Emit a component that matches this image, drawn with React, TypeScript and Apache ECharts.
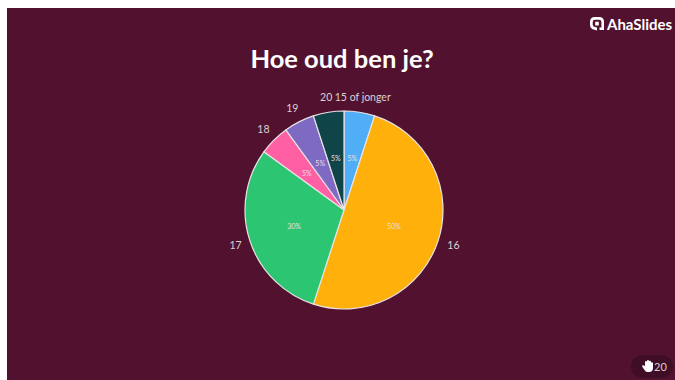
import React, { useEffect, useRef } from "react";
import * as echarts from "echarts";

const categories = ["15 of jonger", "16", "17", "18", "19", "20"];
const responses = [1, 10, 6, 1, 1, 1];
const sliceColors = ["#4FAEF6", "#FFB00A", "#2CC672", "#FF5FA3", "#7E6AC3", "#0F4449"];
const titleText = "Hoe oud ben je?";
const brandText = "AhaSlides";
const countText = "20";
const FONT = "Lato, 'Noto Sans', sans-serif";

const HAND =
  "M3 6 L3 2 Q3 1 4 1 Q5 1 5 2 L5 1 Q5 0 6 0 Q7 0 7 1 L7 1.5 Q7 .7 8 .7 Q9 .7 9 1.7 L9 3 Q9 2.2 10 2.2 Q11 2.2 11 3.2 L11 8 Q11 12 7 12 L5.5 12 Q3.5 12 2.5 10 L.3 6.8 Q-.2 5.8 .6 5.3 Q1.4 4.9 2 5.6 Z";
const LOGO =
  "M5 0 L9 0 Q14 0 14 5 L14 13 L9.5 13 L9.5 10.5 L11.4 10.5 L11.4 5 Q11.4 2.8 9 2.8 L5 2.8 Q2.7 2.8 2.7 5 L2.7 7.5 Q2.7 9.8 5 10 L7 10.4 L7 13.6 L4.5 12.8 Q0 12 0 7.5 L0 5 Q0 0 5 0 Z M5.2 4.8 L8.8 4.8 L8.8 8.4 L5.2 8.4 Z";

echarts.graphic.registerShape("hand20", echarts.graphic.extendPath(HAND, {}) as any);
echarts.graphic.registerShape("aha", echarts.graphic.extendPath(LOGO, {}) as any);

export default function App() {
  const ref = useRef<HTMLDivElement>(null);
  useEffect(() => {
    const chart = echarts.init(ref.current!, null, { renderer: "svg" });
    const data = categories.map((name, i) => ({
      name,
      value: responses[i],
      itemStyle: { color: sliceColors[i] },
    }));
    const base = {
      type: "pie" as const,
      center: [344, 210],
      radius: [0, 99],
      startAngle: 90,
      clockwise: true,
      avoidLabelOverlap: false,
      silent: true,
    };
    chart.setOption({
      animation: false,
      backgroundColor: "#ffffff",
      title: {
        text: titleText,
        left: 337,
        top: 40,
        textAlign: "center",
        textStyle: { color: "#ffffff", fontSize: 25.5, fontWeight: 700, fontFamily: FONT },
      },
      graphic: [
        { type: "rect", z: -10, shape: { x: 7, y: 8, width: 668, height: 372 }, style: { fill: "#52122F" } },
        { type: "aha", x: 590, y: 17, style: { fill: "#ffffff" } },
        {
          type: "text", x: 607, y: 16,
          style: { text: brandText, fill: "#ffffff", font: `700 15px ${FONT}` },
        },
        {
          type: "rect", z: 1,
          shape: { x: 631, y: 355, width: 42, height: 23, r: 11.5 },
          style: { fill: "#3F0D25" },
        },
        { type: "hand20", x: 642, y: 360, style: { fill: "#ffffff" }, z: 2 },
        {
          type: "text", x: 654, y: 361, z: 2,
          style: { text: countText, fill: "#D9CDD3", font: `400 11px ${FONT}` },
        },
      ],
      series: [
        {
          ...base,
          data,
          itemStyle: { borderColor: "#E9E2E5", borderWidth: 1.2 },
          label: {
            show: true,
            position: "outside",
            formatter: "{b}",
            color: "#D9D0D4",
            fontSize: 10.5,
            fontFamily: FONT,
            distanceToLabelLine: 0,
          },
          labelLine: { show: false, length: 15, length2: 0 },
          labelLayout: (p: any) => ({
            dx: p.align === "left" ? 1 - p.labelRect.width / 2 : p.labelRect.width / 2,
          }),
        },
        {
          ...base,
          data: data.map((d) => ({ ...d, itemStyle: { color: "transparent", borderWidth: 0 } })),
          label: {
            show: true,
            position: "inner",
            formatter: (p: any) => `${Math.round(p.percent)}%`,
            color: "#EADFE0",
            fontSize: 7,
            fontFamily: FONT,
          },
          labelLine: { show: false },
        },
      ],
    });
    return () => chart.dispose();
  }, []);
  return <div ref={ref} style={{ position: "fixed", left: 0, top: 0, width: 675, height: 380 }} />;
}
